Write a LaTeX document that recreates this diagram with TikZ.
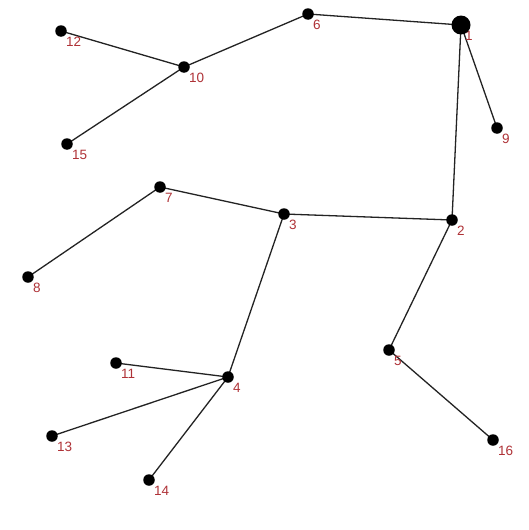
\documentclass[tikz,border=0pt]{standalone}
\usepackage{fontspec}
\setmainfont{Liberation Sans}
\definecolor{lbl}{RGB}{175,50,55}
\definecolor{edge}{RGB}{35,35,35}
\begin{document}
\begin{tikzpicture}[x=1pt,y=-1pt,
  vtx/.style={circle,fill=black,inner sep=0pt,minimum size=11.5pt},
  bigvtx/.style={circle,fill=black,inner sep=0pt,minimum size=19pt},
  lab/.style={anchor=north west,inner sep=0pt,text=lbl,font=\fontsize{13.5}{14}\selectfont},
  link/.style={draw=edge,line width=1.3pt}]
\useasboundingbox[fill=white] (0,0) rectangle (529,530);
\coordinate (1) at (461,25);
\coordinate (2) at (452,220);
\coordinate (3) at (284,214);
\coordinate (4) at (228,377);
\coordinate (5) at (389,350);
\coordinate (6) at (308,14);
\coordinate (7) at (160,187);
\coordinate (8) at (28,277);
\coordinate (9) at (497,128);
\coordinate (10) at (184,67);
\coordinate (11) at (116,363);
\coordinate (12) at (61,31);
\coordinate (13) at (52,436);
\coordinate (14) at (149,480);
\coordinate (15) at (67,144);
\coordinate (16) at (493,440);
\draw[link] (1) -- (6) (1) -- (9) (1) -- (2) (6) -- (10) (10) -- (12) (10) -- (15)
  (2) -- (3) (3) -- (7) (7) -- (8) (3) -- (4) (4) -- (11) (4) -- (13) (4) -- (14)
  (2) -- (5) (5) -- (16);
\foreach \n in {2,3,4,5,6,7,8,9,10,11,12,13,14,15,16}{
  \node[vtx] (v\n) at (\n) {};
  \node[lab] (l\n) at ([xshift=5pt,yshift=-6pt]\n) {\n};
}
\node[lab] (l1) at ([xshift=4pt,yshift=-6pt]1) {1};
\node[bigvtx] (v1) at (1) {};
\end{tikzpicture}
\end{document}
